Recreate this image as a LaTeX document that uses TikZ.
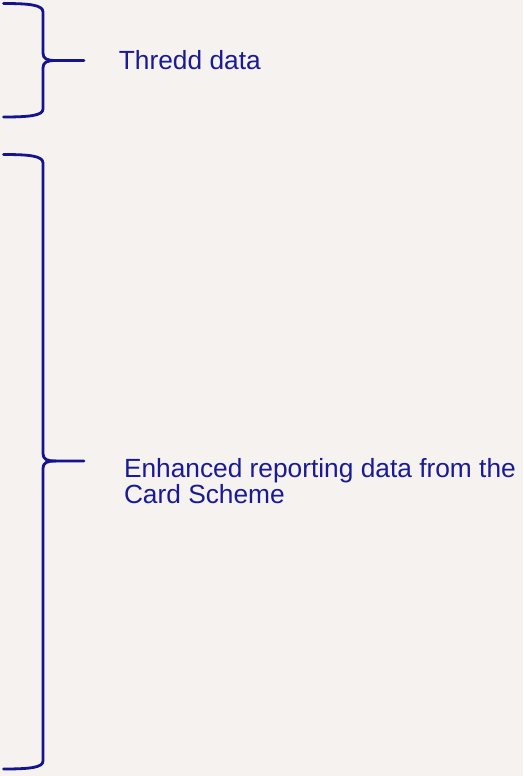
\documentclass[tikz,border=0pt]{standalone}
\usepackage{fontspec}
\setmainfont{Liberation Sans}
\definecolor{bgc}{HTML}{F5F2EF}
\definecolor{bluec}{HTML}{14148F}
\definecolor{textc}{HTML}{1A1A96}
\begin{document}
\begin{tikzpicture}[x=1pt,y=-1pt,
  bracestyle/.style={draw=bluec,line width=2.8pt,line cap=round,line join=round},
  labelstyle/.style={text=textc,inner sep=0pt,anchor=base west,align=left,font=\fontsize{26.3}{26.5}\selectfont}]
\fill[bgc] (0,0) rectangle (523,776);
\useasboundingbox (0,0) rectangle (523,776);
% brace 1
\coordinate (b1top) at (3.5,3.5);
\coordinate (b1tip) at (84,60.5);
\coordinate (b1bot) at (3.5,117);
\draw[bracestyle] (b1top) .. controls (30,3.5) and (43,5) .. (43,12)
  -- (43,53) .. controls (43,59) and (47,60.5) .. (56,60.5) -- (b1tip);
\draw[bracestyle] (b1bot) .. controls (30,117) and (43,115.5) .. (43,109)
  -- (43,68) .. controls (43,62) and (47,60.5) .. (56,60.5);
% brace 2
\coordinate (b2top) at (3.5,154.5);
\coordinate (b2tip) at (84,461);
\coordinate (b2bot) at (3.5,769);
\draw[bracestyle] (b2top) .. controls (30,154.5) and (43,156) .. (43,163)
  -- (43,453.5) .. controls (43,459.5) and (47,461) .. (56,461) -- (b2tip);
\draw[bracestyle] (b2bot) .. controls (30,769) and (43,767.5) .. (43,761)
  -- (43,468.5) .. controls (43,462.5) and (47,461) .. (56,461);
\node[labelstyle] (thredd) at (118.7,69.3) {Thredd data};
\node[labelstyle] (enhanced) at (123.8,503.8) {Enhanced reporting data from the\\Card Scheme};
\end{tikzpicture}
\end{document}
